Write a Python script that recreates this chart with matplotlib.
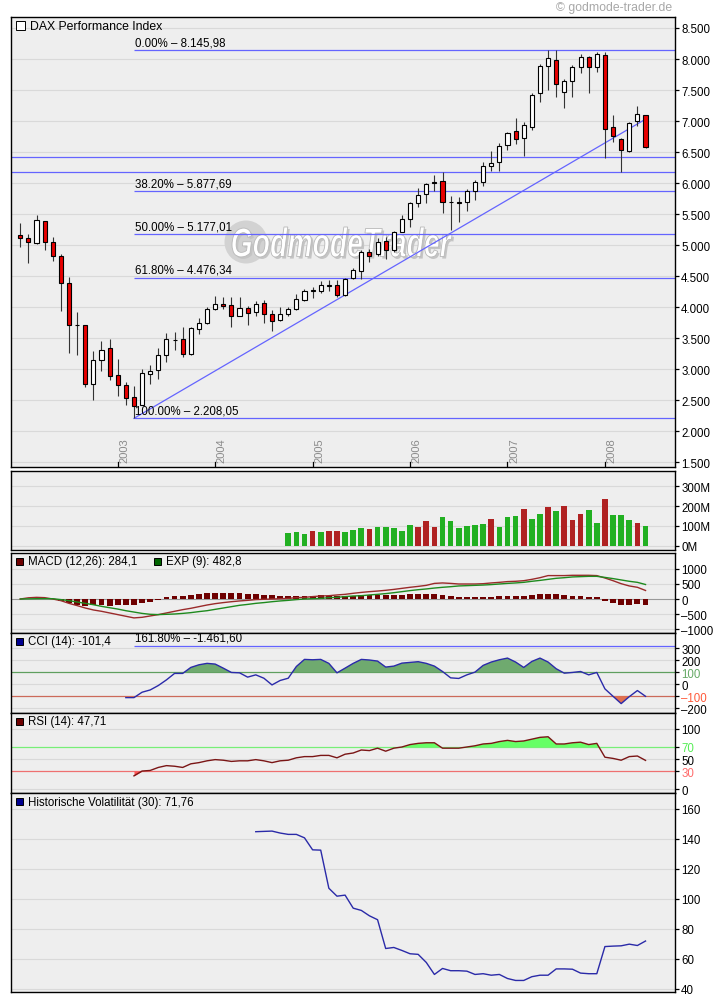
import matplotlib
matplotlib.use('Agg')
import matplotlib.pyplot as plt
import numpy as np
from matplotlib.patches import Rectangle, Circle, PathPatch
from matplotlib.textpath import TextPath
from matplotlib.font_manager import FontProperties
from matplotlib.transforms import Affine2D, IdentityTransform, blended_transform_factory

plt.rcParams['font.family'] = ['Liberation Sans', 'DejaVu Sans']
plt.rcParams['font.size'] = 8

# Monatskerzen DAX, Jan 2002 .. Jun 2008
open_ = np.array([5161, 5113, 5027, 5382, 5043, 4817, 4382, 3720, 3705, 2769, 3151, 3334,
                  2903, 2753, 2549, 2425, 2925, 2989, 3226, 3479, 3495, 3242, 3651, 3753,
                  3963, 4059, 4032, 3860, 3984, 3925, 4075, 3898, 3801, 3898, 3963, 4113,
                  4258, 4253, 4345, 4350, 4199, 4463, 4586, 4882, 4855, 5059, 4925, 5215,
                  5414, 5672, 5822, 6016, 6027, 5699, 5690, 5688, 5871, 6022, 6269, 6333,
                  6618, 6833, 6720, 6909, 7446, 7892, 7978, 7473, 7650, 7865, 8027, 7865,
                  8064, 6898, 6710, 6522, 6994, 7102])
high = np.array([5355, 5177, 5484, 5390, 5124, 4855, 4479, 3925, 3705, 3296, 3457, 3484,
                 3162, 2801, 2731, 3011, 3065, 3334, 3581, 3602, 3678, 3683, 3828, 4006,
                 4178, 4161, 4161, 4156, 4011, 4102, 4118, 3952, 3995, 4006, 4210, 4285,
                 4323, 4420, 4441, 4430, 4473, 4635, 4925, 4936, 5108, 5124, 5231, 5484,
                 5699, 5919, 6000, 6135, 6172, 5796, 5769, 5903, 6054, 6333, 6516, 6640,
                 6828, 7048, 6978, 7452, 7919, 8151, 8151, 7677, 7909, 8081, 8043, 8118,
                 8108, 7097, 6720, 6978, 7236, 7102])
low = np.array([4973, 4704, 5016, 4925, 4737, 3941, 3264, 3237, 2715, 2506, 2968, 2834,
                2570, 2425, 2208, 2425, 2758, 2839, 3118, 3312, 3199, 3231, 3570, 3731,
                3952, 3968, 3688, 3850, 3710, 3855, 3753, 3624, 3774, 3860, 3952, 4092,
                4145, 4231, 4258, 4156, 4183, 4452, 4452, 4721, 4817, 4774, 4882, 5204,
                5296, 5608, 5672, 5866, 5516, 5247, 5366, 5554, 5731, 5946, 6199, 6199,
                6538, 6629, 6441, 6860, 7312, 7505, 7382, 7204, 7382, 7769, 7446, 7785,
                6403, 6656, 6183, 6505, 6914, 6559])
close = np.array([5108, 5043, 5403, 5043, 4817, 4382, 3705, 3705, 2769, 3156, 3317, 2893,
                  2748, 2543, 2409, 2946, 2979, 3226, 3495, 3468, 3253, 3661, 3753, 3968,
                  4059, 4011, 3850, 3984, 3914, 4059, 3898, 3785, 3898, 3963, 4135, 4253,
                  4280, 4350, 4352, 4199, 4462, 4597, 4882, 4828, 5043, 4925, 5204, 5414,
                  5677, 5807, 5983, 6006, 5699, 5690, 5686, 5871, 6011, 6269, 6317, 6602,
                  6801, 6715, 6935, 7419, 7892, 8016, 7591, 7640, 7865, 8027, 7876, 8081,
                  6866, 6753, 6538, 6962, 7112, 6575])
year_idx = [12, 24, 36, 48, 60, 72]
year_lbl = ['2003', '2004', '2005', '2006', '2007', '2008']

# Fibonacci-Retracement
fib_lvl = [8145.98, 5877.69, 5177.01, 4476.34, 2208.05]
fib_txt = ['0.00% – 8.145,98', '38.20% – 5.877,69', '50.00% – 5.177,01',
           '61.80% – 4.476,34', '100.00% – 2.208,05']
extra_lvl = [6414, 6172]
trend_x = [14, 77]
trend_y = [2208.05, 7030]

# Volumen (Mio.)
vol_start = 33
volume = [63, 69, 59, 74, 69, 74, 74, 69, 79, 89, 84, 94, 94, 89, 74, 104, 94, 124,
          94, 145, 124, 89, 99, 104, 109, 134, 94, 145, 150, 185, 134, 160, 195, 175,
          200, 129, 160, 180, 114, 236, 155, 155, 129, 114, 99]
vol_col = 'ggg' 'rgrrgggr' 'gggggrrr' 'gggggg' 'rgggrggr' 'grrrggr'

# MACD
macd = [0, 40, 55, 45, 0, -55, -145, -220, -300, -365, -410, -465, -520, -575, -630,
        -610, -565, -520, -465, -410, -355, -310, -255, -200, -155, -120, -90, -65, -45,
        -20, -10, 0, 10, 20, 45, 55, 80, 100, 110, 135, 155, 190, 220, 245, 265, 290,
        320, 355, 390, 420, 455, 520, 535, 520, 500, 500, 500, 510, 535, 555, 580, 590,
        610, 655, 710, 780, 780, 780, 790, 790, 790, 780, 700, 610, 510, 435, 390, 284]
signal = [0, 5, 10, 12, 10, -20, -55, -100, -145, -190, -245, -290, -335, -390, -435,
          -480, -510, -520, -510, -500, -480, -455, -420, -390, -345, -300, -255, -210,
          -180, -145, -120, -90, -65, -45, -20, 0, 10, 20, 45, 55, 80, 100, 110, 135, 155,
          180, 210, 245, 280, 310, 335, 365, 390, 410, 435, 445, 455, 465, 480, 500, 520,
          535, 555, 590, 620, 655, 690, 710, 735, 745, 755, 755, 720, 680, 635, 590, 555, 483]
hist_start = 5
hist = [-56, -144, -189, -222, -211, -211, -222, -200, -189, -189, -122, -89, -33, 56,
        89, 89, 122, 167, 189, 189, 189, 189, 189, 167, 167, 122, 122, 89, 89, 89, 89,
        100, 122, 100, 89, 89, 100, 133, 144, 144, 144, 144, 144, 167, 167, 167, 167, 133,
        100, 78, 78, 78, 78, 78, 100, 100, 100, 100, 133, 167, 167, 167, 133, 100, 100,
        78, 78, -56, -133, -189, -189, -156, -189]

# CCI
cci_start = 13
cci = [-112, -112, -67, -48, -11, 36, 90, 90, 140, 162, 174, 168, 134, 98, 95, 59, 78,
       50, -6, 31, 50, 148, 207, 204, 207, 174, 95, 134, 174, 207, 202, 193, 143, 151,
       176, 182, 188, 174, 151, 106, 53, 48, 78, 101, 157, 185, 204, 218, 185, 140, 190,
       218, 185, 129, 92, 98, 106, 78, 98, -39, -101, -162, -104, -53, -101]

# RSI
rsi_start = 14
rsi = [22, 30, 31, 36, 39, 38, 36, 42, 44, 47, 49, 48, 46, 47, 47, 49, 47, 44, 47, 48,
       52, 54, 54, 56, 56, 52, 58, 60, 65, 64, 68, 63, 68, 70, 74, 76, 77, 77, 68, 68, 68,
       70, 72, 75, 76, 79, 81, 79, 80, 83, 86, 87, 75, 75, 77, 78, 74, 76, 53, 51, 48, 54,
       55, 47.7]

# Historische Volatilitaet
hv_start = 29
hv = [144.7, 144.9, 145.1, 143.8, 142.9, 142.9, 140.6, 132.6, 132.4, 107, 101.7, 102.4,
      93.7, 92.2, 88.6, 86, 66.8, 67.5, 65.5, 63.3, 62.9, 57.5, 49.5, 53.5, 52, 52, 51.7,
      49.5, 50, 49, 49.5, 46.8, 45.5, 45.5, 48, 49, 49, 53.2, 53.2, 53, 50.4, 50, 50,
      68.1, 68.4, 68.6, 69.7, 68.8, 71.8]

W, H = 720, 1004
fig = plt.figure(figsize=(W / 100, H / 100), dpi=100)
XL = (-1.18, 80.63)
GRID = '#d9d9d9'
BLUE = '#6464ff'


def panel(top, bottom, ylim, ticks, labels):
    ax = fig.add_axes([10.7 / W, 1 - bottom / H, (675 - 10.7) / W, (bottom - top) / H])
    ax.set_facecolor('#eeeeee')
    ax.set_xlim(*XL)
    ax.set_ylim(*ylim)
    ax.set_xticks([])
    ax.yaxis.tick_right()
    ax.set_yticks(ticks)
    ax.set_yticklabels(labels)
    ax.tick_params(axis='y', direction='out', length=3, width=0.9, pad=1.5,
                   labelsize=8.3, colors='black')
    for s in ax.spines.values():
        s.set_linewidth(1.0)
    return ax


def legend(y, items):
    for x, col, txt in items:
        fig.add_artist(Rectangle((x / W, 1 - (y + 3.5) / H), 7 / W, 7 / H,
                                 transform=fig.transFigure, facecolor=col,
                                 edgecolor='black', lw=0.7))
        fig.text((x + 12) / W, 1 - y / H, txt, va='center', ha='left', fontsize=8.3)


# ---- Kurs ----
ax = panel(18, 468, (1424, 8677), np.arange(1500, 8501, 500),
           ['{:,}'.format(v).replace(',', '.') for v in range(1500, 8501, 500)])
for v in range(1500, 8501, 500):
    ax.axhline(v, color=GRID, lw=0.8, zorder=0.5)

# Wasserzeichen
ax.add_patch(Circle((246, H - 243), 21.5, transform=IdentityTransform(),
                    facecolor='#d2d2d2', edgecolor='none', zorder=0.8))
tp = TextPath((0, 0), 'GodmodeTrader', size=30,
              prop=FontProperties(family='Liberation Sans', weight='bold', style='italic'))
bb = tp.get_extents()
for dx, dy, fc, ec in [(2, -2, '#c4c4c4', 'none'), (0, 0, 'white', '#b8b8b8')]:
    tr = Affine2D().translate(-bb.x0, -bb.y0).scale(220 / bb.width, 30 / bb.height) \
        .translate(232 + dx, H - 258 + dy)
    ax.add_patch(PathPatch(tp, transform=tr, facecolor=fc, edgecolor=ec, lw=0.6, zorder=0.9))

for lvl in extra_lvl:
    ax.axhline(lvl, color=BLUE, lw=0.9, zorder=1)
for lvl, txt in zip(fib_lvl, fib_txt):
    ax.hlines(lvl, 14, XL[1], color=BLUE, lw=0.9, zorder=1)
    ax.annotate(txt, xy=(14.1, lvl), xytext=(0, 1.2), textcoords='offset points',
                va='bottom', ha='left', fontsize=8.3, zorder=4)
ax.plot(trend_x, trend_y, color=BLUE, lw=0.9, zorder=1)

idx = np.arange(len(close))
up = close >= open_
ax.vlines(idx, low, high, color='#333333', lw=0.8, zorder=2)
ax.bar(idx, np.maximum(np.abs(close - open_), 4), bottom=np.minimum(open_, close),
       width=0.5, color=np.where(up, 'white', '#e80000'), edgecolor='black', lw=0.8, zorder=3)

bt = blended_transform_factory(ax.transData, ax.transAxes)
for i, lbl in zip(year_idx, year_lbl):
    ax.plot([i, i], [0, 0.011], transform=bt, color='black', lw=0.9)
    ax.text(i + 0.2, 0.011, lbl, transform=bt, rotation=90, ha='left', va='bottom',
            color='#8a8a8a', fontsize=8)

fig.add_artist(Rectangle((15.7 / W, 1 - 31.3 / H), 9 / W, 9 / H, transform=fig.transFigure,
                         facecolor='white', edgecolor='black', lw=0.7))
fig.text(30.5 / W, 1 - 26.5 / H, 'DAX Performance Index', va='center', ha='left', fontsize=8.8)
fig.text(672 / W, 1 - 8 / H, '© godmode-trader.de', va='center', ha='right',
         color='#a8a8a8', fontsize=8.8)

# ---- Volumen ----
av = panel(471.7, 551, (-21.7, 379), [0, 100, 200, 300], ['0M', '100M', '200M', '300M'])
for v in [0, 100, 200, 300]:
    av.axhline(v, color=GRID, lw=0.8, zorder=0.5)
vx = np.arange(vol_start, vol_start + len(volume))
av.bar(vx, volume, width=0.7, zorder=2,
       color=['#22b022' if c == 'g' else '#b02222' for c in vol_col])

# ---- MACD ----
am = panel(554.3, 634, (-1133, 1523), [-1000, -500, 0, 500, 1000],
           ['–1000', '–500', '0', '500', '1000'])
for v in [-1000, -500, 500, 1000]:
    am.axhline(v, color=GRID, lw=0.8, zorder=0.5)
am.axhline(0, color='#999999', lw=0.8, zorder=0.6)
hx = np.arange(hist_start, hist_start + len(hist))
am.bar(hx, hist, width=0.72, color='#6e0000', zorder=2)
am.plot(idx, macd, color='#9a2a2a', lw=1.0, zorder=3)
am.plot(idx, signal, color='#1e8a1e', lw=1.0, zorder=3)
legend(562, [(15.7, '#6e0000', 'MACD (12,26): 284,1'), (154.3, '#006400', 'EXP (9): 482,8')])

# ---- CCI ----
ac = panel(634.3, 714.3, (-243, 425), [-200, -100, 0, 100, 200, 300],
           ['–200', '–100', '0', '100', '200', '300'])
for v in [-200, 0, 200, 300]:
    ac.axhline(v, color=GRID, lw=0.8, zorder=0.5)
ac.axhline(100, color='#5f9f5f', lw=0.9, zorder=1)
ac.axhline(-100, color='#cc6a5a', lw=0.9, zorder=1)
cx = np.arange(cci_start, cci_start + len(cci))
cv = np.array(cci, dtype=float)
ac.fill_between(cx, cv, 100, where=cv > 100, interpolate=True, color='#6faa6f', lw=0, zorder=1.5)
ac.fill_between(cx, cv, -100, where=cv < -100, interpolate=True, color='#e07050', lw=0, zorder=1.5)
ac.plot(cx, cv, color='#2a2aaa', lw=1.0, zorder=3)
ac.hlines(322, 14, XL[1], color=BLUE, lw=0.9, zorder=1)
ac.annotate('161.80% – -1.461,60', xy=(14.1, 322), xytext=(0, 1.2), textcoords='offset points',
            va='bottom', ha='left', fontsize=8.3)
for t in ac.get_yticklabels():
    if t.get_text() == '100':
        t.set_color('#66aa66')
    if t.get_text() == '–100':
        t.set_color('#ff5a3a')
legend(642.5, [(15.7, '#000090', 'CCI (14): -101,4')])

# ---- RSI ----
ar = panel(714.3, 794.3, (-7, 126), [0, 30, 50, 70, 100], ['0', '30', '50', '70', '100'])
for v in [0, 50, 100]:
    ar.axhline(v, color=GRID, lw=0.8, zorder=0.5)
ar.axhline(70, color='#77ee77', lw=0.9, zorder=1)
ar.axhline(30, color='#ee7070', lw=0.9, zorder=1)
rx = np.arange(rsi_start, rsi_start + len(rsi))
rv = np.array(rsi, dtype=float)
ar.fill_between(rx, rv, 70, where=rv > 70, interpolate=True, color='#66ff66', lw=0, zorder=1.5)
ar.fill_between(rx, rv, 30, where=rv < 30, interpolate=True, color='#ff5555', lw=0, zorder=1.5)
ar.plot(rx, rv, color='#7a1515', lw=1.0, zorder=3)
for t in ar.get_yticklabels():
    if t.get_text() == '70':
        t.set_color('#55ee55')
    if t.get_text() == '30':
        t.set_color('#ff6a6a')
legend(722.5, [(15.7, '#6e0000', 'RSI (14): 47,71')])

# ---- Volatilitaet ----
ah = panel(794.3, 993.3, (37.6, 170.3), np.arange(40, 161, 20),
           [str(v) for v in range(40, 161, 20)])
for v in range(40, 161, 20):
    ah.axhline(v, color=GRID, lw=0.8, zorder=0.5)
hx2 = np.arange(hv_start, hv_start + len(hv))
ah.plot(hx2, hv, color='#2a2aa8', lw=1.0, zorder=3)
legend(802.7, [(15.7, '#000090', 'Historische Volatilität (30): 71,76')])

fig.savefig('out.png', dpi=100, facecolor='white')
